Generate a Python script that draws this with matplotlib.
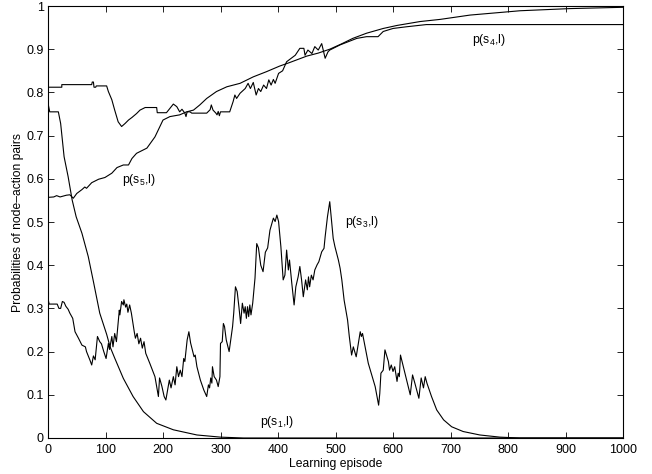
import matplotlib
matplotlib.use('Agg')
import matplotlib.pyplot as plt

plt.rcParams['font.family'] = ['Liberation Sans', 'DejaVu Sans']
plt.rcParams['mathtext.fontset'] = 'custom'
plt.rcParams['mathtext.rm'] = 'Liberation Sans'
plt.rcParams['mathtext.it'] = 'Liberation Sans'

# p(s1,l): fast decay
s1_ep = [0, 3, 18, 22, 28, 35, 42, 49, 59, 70, 79, 90, 102, 108, 116, 131, 148,
         166, 189, 218, 259, 300, 340, 1000]
s1_p = [0.775, 0.755, 0.755, 0.728, 0.651, 0.605, 0.551, 0.512, 0.474, 0.42,
        0.362, 0.289, 0.24, 0.211, 0.185, 0.138, 0.096, 0.061, 0.034, 0.019,
        0.007, 0.002, 0.0, 0.0]

# p(s3,l): noisy, rises then dies out
s3_ep = [0, 2, 16, 19, 22, 25, 28, 31, 35, 38, 43, 45, 47, 53, 59, 65, 67, 73, 76,
         79, 82, 86, 90, 93, 97, 101, 105, 107, 111, 113, 116, 119, 124, 125, 128,
         131, 132, 135, 137, 139, 142, 145, 150, 152, 155, 158, 161, 164, 167, 170,
         177, 186, 192, 194, 198, 202, 205, 211, 214, 218, 221, 224, 227, 230, 233,
         236, 238, 242, 245, 248, 254, 256, 259, 265, 271, 276, 279, 281, 283, 285,
         286, 289, 293, 296, 299, 300, 303, 305, 307, 310, 315, 317, 321, 323, 326,
         329, 332, 335, 338, 341, 343, 345, 347, 349, 351, 353, 356, 360, 363, 366,
         370, 374, 378, 382, 386, 392, 395, 398, 401, 405, 409, 412, 415, 418, 420,
         424, 428, 431, 435, 438, 441, 444, 448, 451, 453, 455, 458, 461, 464, 468,
         471, 476, 480, 482, 486, 490, 493, 496, 499, 505, 508, 511, 515, 521, 524,
         528, 531, 536, 543, 545, 547, 557, 569, 575, 577, 579, 583, 586, 592, 594,
         597, 600, 603, 607, 609, 611, 613, 618, 630, 634, 638, 645, 649, 653, 656,
         659, 667, 676, 688, 702, 722, 751, 786, 820, 1000]
s3_p = [0.322, 0.31, 0.31, 0.30, 0.30, 0.316, 0.314, 0.305, 0.298, 0.289, 0.277,
        0.262, 0.246, 0.231, 0.215, 0.211, 0.2, 0.18, 0.169, 0.19, 0.181, 0.235,
        0.223, 0.218, 0.2, 0.184, 0.219, 0.205, 0.235, 0.211, 0.242, 0.223, 0.296,
        0.285, 0.316, 0.308, 0.32, 0.303, 0.31, 0.291, 0.308, 0.289, 0.246, 0.231,
        0.242, 0.218, 0.231, 0.208, 0.223, 0.196, 0.173, 0.142, 0.096, 0.139, 0.12,
        0.096, 0.088, 0.134, 0.116, 0.142, 0.123, 0.165, 0.142, 0.157, 0.142, 0.184,
        0.177, 0.227, 0.246, 0.22, 0.188, 0.192, 0.165, 0.134, 0.111, 0.096, 0.123,
        0.116, 0.139, 0.127, 0.165, 0.142, 0.134, 0.119, 0.142, 0.219, 0.223, 0.265,
        0.258, 0.227, 0.2, 0.219, 0.258, 0.289, 0.35, 0.339, 0.304, 0.265, 0.312,
        0.289, 0.304, 0.277, 0.304, 0.281, 0.308, 0.285, 0.312, 0.37, 0.45, 0.44,
        0.40, 0.385, 0.43, 0.44, 0.481, 0.509, 0.501, 0.516, 0.501, 0.443, 0.366,
        0.377, 0.435, 0.389, 0.412, 0.358, 0.308, 0.35, 0.373, 0.397, 0.366, 0.327,
        0.366, 0.343, 0.373, 0.35, 0.377, 0.366, 0.389, 0.401, 0.408, 0.431, 0.439,
        0.466, 0.512, 0.547, 0.505, 0.462, 0.443, 0.412, 0.393, 0.366, 0.319, 0.273,
        0.235, 0.192, 0.211, 0.188, 0.246, 0.235, 0.242, 0.173, 0.119, 0.076, 0.103,
        0.15, 0.157, 0.204, 0.177, 0.157, 0.169, 0.154, 0.165, 0.131, 0.15, 0.142,
        0.192, 0.165, 0.1, 0.146, 0.127, 0.092, 0.139, 0.116, 0.142, 0.127, 0.096,
        0.065, 0.042, 0.026, 0.015, 0.007, 0.002, 0.0, 0.0]

# p(s4,l): stepwise, levels off
s4_ep = [0, 24, 24, 76, 77, 79, 80, 83, 84, 102, 105, 111, 116, 122, 128, 134, 140,
         146, 154, 160, 169, 189, 190, 206, 212, 218, 224, 229, 233, 238, 240, 242,
         247, 250, 276, 282, 284, 287, 292, 294, 296, 298, 300, 316, 322, 325, 328,
         334, 343, 348, 352, 357, 362, 366, 370, 375, 380, 384, 388, 392, 395, 401,
         408, 415, 430, 438, 445, 447, 452, 459, 464, 470, 476, 482, 487, 490, 508,
         537, 554, 574, 583, 600, 624, 658, 1000]
s4_p = [0.812, 0.812, 0.818, 0.818, 0.824, 0.824, 0.812, 0.812, 0.815, 0.815,
        0.802, 0.783, 0.759, 0.732, 0.721, 0.728, 0.736, 0.742, 0.751, 0.759, 0.765,
        0.765, 0.753, 0.753, 0.763, 0.773, 0.767, 0.755, 0.761, 0.752, 0.744, 0.755,
        0.755, 0.752, 0.752, 0.76, 0.771, 0.759, 0.752, 0.748, 0.756, 0.746, 0.755,
        0.755, 0.779, 0.794, 0.786, 0.798, 0.809, 0.821, 0.809, 0.823, 0.794, 0.809,
        0.802, 0.817, 0.809, 0.829, 0.817, 0.83, 0.821, 0.844, 0.85, 0.871, 0.886,
        0.902, 0.902, 0.886, 0.898, 0.89, 0.906, 0.898, 0.913, 0.879, 0.894, 0.898,
        0.91, 0.925, 0.929, 0.929, 0.941, 0.948, 0.952, 0.957, 0.957]

# p(s5,l): smooth rise towards 1
s5_ep = [0, 10, 15, 21, 32, 38, 44, 50, 59, 64, 67, 76, 88, 99, 111, 120, 131, 140,
         146, 154, 172, 186, 200, 212, 229, 241, 253, 264, 276, 293, 311, 334, 357,
         380, 403, 420, 450, 470, 490, 510, 530, 554, 583, 607, 647, 682, 734, 821,
         908, 1000]
s5_p = [0.557, 0.558, 0.561, 0.558, 0.562, 0.563, 0.555, 0.566, 0.575, 0.581,
        0.578, 0.591, 0.599, 0.603, 0.613, 0.626, 0.632, 0.632, 0.647, 0.659, 0.671,
        0.697, 0.736, 0.744, 0.748, 0.755, 0.759, 0.771, 0.786, 0.802, 0.813, 0.821,
        0.836, 0.848, 0.861, 0.869, 0.884, 0.891, 0.9, 0.912, 0.925, 0.937, 0.948,
        0.955, 0.964, 0.969, 0.979, 0.989, 0.994, 0.997]

x_ticks = list(range(0, 1001, 100))
y_ticks = [0, 0.1, 0.2, 0.3, 0.4, 0.5, 0.6, 0.7, 0.8, 0.9, 1]
y_tick_labels = ['0', '0.1', '0.2', '0.3', '0.4', '0.5', '0.6', '0.7', '0.8', '0.9', '1']

fig = plt.figure(figsize=(6.52, 4.74), dpi=100)
ax = fig.add_axes([48 / 652, 36 / 474, 575 / 652, 432 / 474])

for ep, p in [(s1_ep, s1_p), (s3_ep, s3_p), (s4_ep, s4_p), (s5_ep, s5_p)]:
    ax.plot(ep, p, color='black', linewidth=0.8)

ax.set_xlim(0, 1000)
ax.set_ylim(0, 1)
ax.set_xticks(x_ticks)
ax.set_yticks(y_ticks)
ax.set_yticklabels(y_tick_labels)
ax.tick_params(direction='in', top=True, right=True, length=4.5, width=0.6,
               labelsize=9, pad=3)
ax.tick_params(axis='x', pad=4.5)
for sp in ax.spines.values():
    sp.set_linewidth(0.8)

ax.set_xlabel('Learning episode', fontsize=8.7, labelpad=1.5)
ax.set_ylabel('Probabilities of node\u2013action pairs', fontsize=8.7, labelpad=2)

lab = dict(fontsize=8.8, ha='left', va='center')
ax.text(737, 0.921, r'p(s$_4$,l)', **lab)
ax.text(128, 0.597, r'p(s$_5$,l)', **lab)
ax.text(516, 0.50, r'p(s$_3$,l)', **lab)
ax.text(369, 0.037, r'p(s$_1$,l)', **lab)

fig.savefig('out.png', dpi=100, facecolor='white')
